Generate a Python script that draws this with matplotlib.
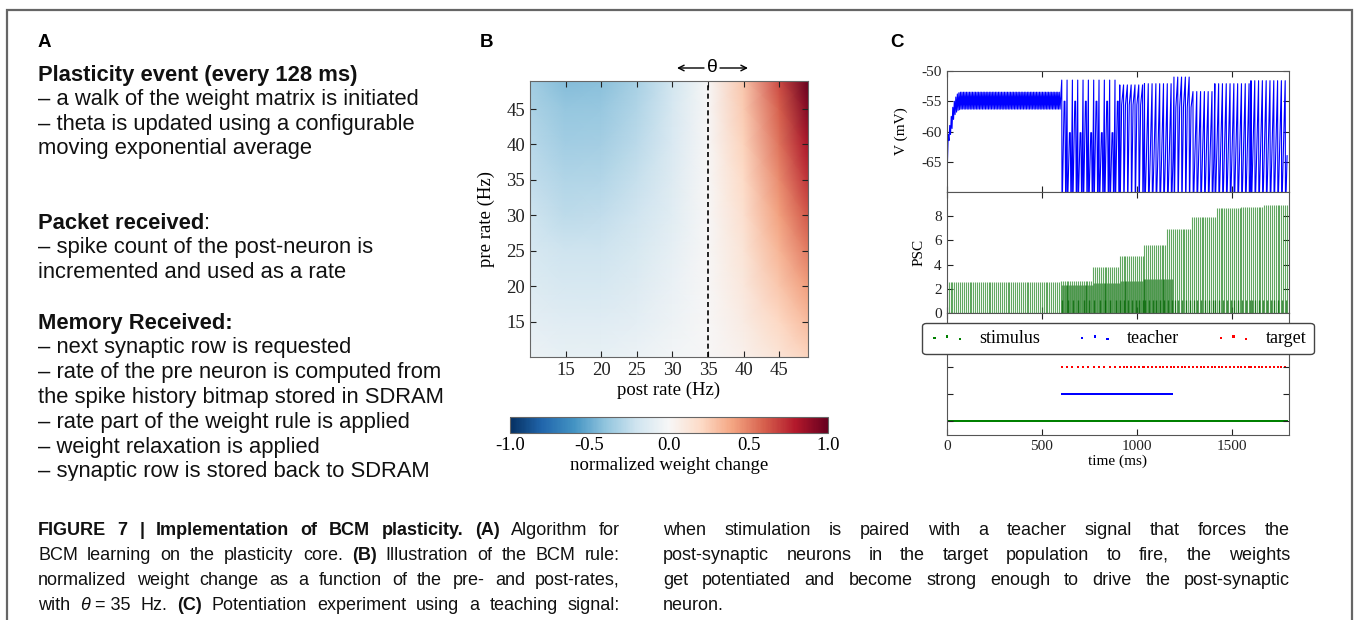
import numpy as np
import matplotlib
matplotlib.use('Agg')
import matplotlib.pyplot as plt
from matplotlib.patches import Rectangle

W, H = 1354, 620
plt.rcParams['font.family'] = ['Liberation Serif', 'DejaVu Serif']
plt.rcParams['axes.unicode_minus'] = False
plt.rcParams['xtick.direction'] = 'in'
plt.rcParams['ytick.direction'] = 'in'
plt.rcParams['xtick.top'] = True
plt.rcParams['ytick.right'] = True
plt.rcParams['xtick.major.size'] = 4
plt.rcParams['ytick.major.size'] = 4

SANS = ['Liberation Sans', 'DejaVu Sans']
NARROW = ['Liberation Sans Narrow', 'Liberation Sans', 'DejaVu Sans']

# ---------------- panel B : BCM rule ----------------
post_rates = [10, 15, 20, 25, 30, 35, 40, 45, 49]
pre_rates = [10, 15, 20, 25, 30, 35, 40, 45, 49]
dw = [
    [-0.06, -0.08, -0.08, -0.06, -0.03, 0.0, 0.05, 0.14, 0.22],
    [-0.10, -0.12, -0.12, -0.10, -0.05, 0.0, 0.08, 0.21, 0.32],
    [-0.14, -0.17, -0.17, -0.13, -0.07, 0.0, 0.11, 0.28, 0.42],
    [-0.17, -0.21, -0.21, -0.16, -0.09, 0.0, 0.14, 0.34, 0.52],
    [-0.21, -0.26, -0.25, -0.20, -0.11, 0.0, 0.17, 0.41, 0.62],
    [-0.25, -0.30, -0.29, -0.23, -0.13, 0.0, 0.20, 0.47, 0.72],
    [-0.28, -0.35, -0.34, -0.27, -0.15, 0.0, 0.23, 0.54, 0.82],
    [-0.32, -0.39, -0.38, -0.30, -0.17, 0.0, 0.26, 0.60, 0.92],
    [-0.35, -0.43, -0.42, -0.33, -0.19, 0.0, 0.28, 0.66, 1.00],
]
theta = 35

# ---------------- panel C : potentiation experiment ----------------
# membrane potential before teacher onset: early cycles, then plateau
osc_period = 8
rise_hi = [-65, -60.5, -59, -57.5, -56, -55, -54.3, -53.8, -53.6, -53.5]
rise_lo = [-65, -61.5, -60.5, -59.5, -58, -57.2, -56.8, -56.5, -56.4, -56.3]
plateau_hi, plateau_lo = -53.5, -56.3
teacher_onset = 600

# spiking segments after teacher onset
seg_start = [605, 910, 1040, 1195, 1295, 1410, 1600]
seg_end = [910, 1040, 1195, 1295, 1410, 1600, 1800]
seg_isi = [28, 20, 20, 20, 20, 20, 20]
seg_peak = [-51.5, -52.3, -52.1, -51.0, -53.4, -52.1, -51.6]
seg_mid = [-55.0, -55.6, -64.4, -56.0, -64.0, -64.0, -64.0]
seg_mid2 = [-60.2, -55.6, -64.4, -56.0, -64.0, -64.0, -64.0]

# PSC amplitudes of the stimulus synapse (steps)
stim_isi = 10
psc_step_start = [0, 600, 770, 910, 1035, 1157, 1288, 1416, 1542, 1665, 1795]
psc_step_level = [2.6, 2.67, 3.8, 4.67, 5.65, 6.95, 7.9, 8.65, 8.8, 8.95, 9.4]
# darker overlapping PSC during teaching
teach_end = 1195
teach_step_start = [600, 770, 910, 1035]
teach_step_level = [2.3, 2.45, 2.65, 2.85]
low_band = 1.05

raster_names = ['stimulus', 'teacher', 'target']
raster_colors = ['green', 'blue', 'red']


def fx(x):
    return x / W


def fy(y):
    return 1 - y / H


fig = plt.figure(figsize=(W / 100, H / 100), dpi=100)
renderer = fig.canvas.get_renderer()

# outer frame
fig.add_artist(Rectangle((fx(7), fy(660)), fx(1352) - fx(7), fy(10) - fy(660),
                         transform=fig.transFigure, fill=False, ec='#666666', lw=1.6))


def make_text(s, sty, size, family):
    return fig.text(0, 0, s, fontsize=size, family=family, va='baseline',
                    weight='bold' if sty == 'b' else 'normal',
                    style='italic' if sty == 'i' else 'normal', color='#111111')


def put_line(x0, x1, y, segs, justify=True, size=13, family=SANS):
    if not justify:
        x = x0
        for s, sty in segs:
            t = make_text(s, sty, size, family)
            t.set_position((fx(x), fy(y)))
            x += t.get_window_extent(renderer).width
        return
    words = [[]]
    for text, sty in segs:
        parts = text.split(' ')
        for i, p in enumerate(parts):
            if i > 0:
                words.append([])
            if p:
                words[-1].append((p, sty))
    words = [w for w in words if w]
    rows, widths = [], []
    for w in words:
        row, tot = [], 0
        for p, sty in w:
            t = make_text(p, sty, size, family)
            wp = t.get_window_extent(renderer).width
            row.append((t, wp))
            tot += wp
        rows.append(row)
        widths.append(tot)
    gap = (x1 - x0 - sum(widths)) / (len(words) - 1)
    x = x0
    for row in rows:
        for t, wp in row:
            t.set_position((fx(x), fy(y)))
            x += wp
        x += gap


# ---------------- panel A : text ----------------
fig.text(fx(38), fy(47), 'A', fontsize=13.5, weight='bold', family=SANS, va='baseline')
text_a = [
    (75, [('Plasticity event (every 128 ms)', 'b')]),
    (99, [('– a walk of the weight matrix is initiated', 'n')]),
    (124, [('– theta is updated using a configurable', 'n')]),
    (148, [('moving exponential average', 'n')]),
    (223, [('Packet received', 'b'), (':', 'n')]),
    (247, [('– spike count of the post-neuron is', 'n')]),
    (272, [('incremented and used as a rate', 'n')]),
    (323, [('Memory Received:', 'b')]),
    (347, [('– next synaptic row is requested', 'n')]),
    (372, [('– rate of the pre neuron is computed from', 'n')]),
    (397, [('the spike history bitmap stored in SDRAM', 'n')]),
    (422, [('– rate part of the weight rule is applied', 'n')]),
    (447, [('– weight relaxation is applied', 'n')]),
    (471, [('– synaptic row is stored back to SDRAM', 'n')]),
]
for yy, segs in text_a:
    put_line(38, 450, yy + 6, segs, justify=False, size=15.8)
fig.add_artist(Rectangle((fx(30), fy(495)), fx(455) - fx(30), fy(481) - fy(495),
                         transform=fig.transFigure, color='white', zorder=10))

# ---------------- panel B : heatmap ----------------
fig.text(fx(480), fy(47), 'B', fontsize=13.5, weight='bold', family=SANS, va='baseline')
ax_b = fig.add_axes([fx(530), fy(357), fx(807.7) - fx(530), fy(80.7) - fy(357)])
mesh = ax_b.pcolormesh(post_rates, pre_rates, np.array(dw), cmap='RdBu_r',
                       vmin=-1, vmax=1, shading='gouraud')
ax_b.axvline(theta, color='k', ls='--', lw=1.2, dashes=(3, 2))
ax_b.set_xlim(10, 49)
ax_b.set_ylim(10, 49)
ax_b.set_xticks([15, 20, 25, 30, 35, 40, 45])
ax_b.set_yticks([15, 20, 25, 30, 35, 40, 45])
ax_b.tick_params(labelsize=13.5, colors='#222222')
ax_b.set_xlabel('post rate (Hz)', fontsize=13.5, labelpad=2)
ax_b.set_ylabel('pre rate (Hz)', fontsize=13.5)
ax_b.yaxis.set_label_coords(-0.125, 0.5)
for s in ax_b.spines.values():
    s.set_color('#666666')

fig.text(fx(712), fy(68), 'θ', fontsize=14, family=SANS, ha='center', va='center')
ax_b.annotate('', xy=(fx(677), fy(68)), xytext=(fx(704), fy(68)), xycoords='figure fraction',
              arrowprops=dict(arrowstyle='->', lw=1, color='k', shrinkA=0, shrinkB=0))
ax_b.annotate('', xy=(fx(748), fy(68)), xytext=(fx(720), fy(68)), xycoords='figure fraction',
              arrowprops=dict(arrowstyle='->', lw=1, color='k', shrinkA=0, shrinkB=0))

cax = fig.add_axes([fx(510), fy(433), fx(828) - fx(510), fy(417) - fy(433)])
cb = fig.colorbar(mesh, cax=cax, orientation='horizontal', ticks=[-1, -0.5, 0, 0.5, 1])
cb.ax.set_xticklabels(['-1.0', '-0.5', '0.0', '0.5', '1.0'])
cb.ax.tick_params(labelsize=13.5, length=0, pad=3)
cb.set_label('normalized weight change', fontsize=13.5, labelpad=2)
cb.outline.set_edgecolor('#666666')

# ---------------- panel C ----------------
fig.text(fx(890), fy(47), 'C', fontsize=13.5, weight='bold', family=SANS, va='baseline')
left, width = fx(946.7), fx(1289) - fx(946.7)
ax_v = fig.add_axes([left, fy(192), width, fy(71) - fy(192)])
ax_p = fig.add_axes([left, fy(313), width, fy(192) - fy(313)], sharex=ax_v)
ax_r = fig.add_axes([left, fy(435), width, fy(313) - fy(435)], sharex=ax_v)

# membrane trace
vt, vv = [], []
for k in range(teacher_onset // osc_period):
    t = k * osc_period
    hi = rise_hi[k] if k < len(rise_hi) else plateau_hi
    lo = rise_lo[k] if k < len(rise_lo) else plateau_lo
    vt += [t, t + osc_period / 2]
    vv += [hi, lo]
target_times = []
for s0, s1, isi, pk, m1, m2 in zip(seg_start, seg_end, seg_isi, seg_peak, seg_mid, seg_mid2):
    for j, t in enumerate(range(s0, s1, isi)):
        mid = m1 if j % 2 == 0 else m2
        if isi > 25:
            # slow firing: short sub-threshold dash between spikes
            vt += [t, t + 1.5, t + 0.45 * isi, t + 0.6 * isi, t + 0.75 * isi]
            vv += [pk, -74, mid, mid, -74]
        else:
            vt += [t, t + 1.5, t + 0.5 * isi]
            vv += [pk, -74, mid]
        target_times.append(t)
ax_v.plot(vt, vv, color='blue', lw=0.8)
ax_v.set_ylim(-70, -50)
ax_v.set_yticks([-65, -60, -55, -50])
ax_v.set_ylabel('V (mV)', fontsize=11)
ax_v.yaxis.set_label_coords(-0.113, 0.5)

# PSC
stim_times = np.arange(0, 1800, stim_isi)
stim_h = np.array(psc_step_level)[np.searchsorted(psc_step_start, stim_times, side='right') - 1]
ax_p.vlines(stim_times, 0, stim_h, color='#2e8b2e', alpha=0.75, lw=0.8)
teacher_times = np.arange(teacher_onset + 5, teach_end, stim_isi)
teach_h = np.array(teach_step_level)[np.searchsorted(teach_step_start, teacher_times, side='right') - 1]
ax_p.vlines(teacher_times, 0, teach_h, color='#006400', alpha=0.6, lw=1.0)
ax_p.vlines(np.array(target_times) + 3, 0, low_band, color='#006400', alpha=0.7, lw=1.0)
ax_p.set_ylim(0, 10)
ax_p.set_yticks([0, 2, 4, 6, 8])
ax_p.set_ylabel('PSC', fontsize=11)
ax_p.yaxis.set_label_coords(-0.063, 0.5)

# raster
raster_times = [stim_times, teacher_times, np.array(target_times)]
handles = []
for i, (name, col, tt) in enumerate(zip(raster_names, raster_colors, raster_times)):
    h = ax_r.scatter(tt, np.full(len(tt), i + 1), s=3, color=col, marker='s', lw=0, label=name)
    handles.append(h)
ax_r.set_ylim(0.5, 5)
ax_r.set_yticks([1, 2, 3, 4])
ax_r.set_yticklabels([])
ax_r.set_xlim(0, 1800)
ax_r.set_xticks([0, 500, 1000, 1500])
ax_r.set_xlabel('time (ms)', fontsize=11, labelpad=1)

for ax in (ax_v, ax_p, ax_r):
    ax.tick_params(labelsize=11, colors='#222222')
    for s in ax.spines.values():
        s.set_color('#555555')
plt.setp(ax_v.get_xticklabels(), visible=False)
plt.setp(ax_p.get_xticklabels(), visible=False)

leg = fig.legend(handles=handles, loc='center', bbox_to_anchor=(fx(1118), fy(338.5)),
                 ncol=3, scatterpoints=3, fontsize=13, markerscale=1.0, fancybox=True,
                 framealpha=1, edgecolor='#444444')
leg.get_frame().set_linewidth(1.0)

# ---------------- caption ----------------
cap_left = [
    [('FIGURE 7 | Implementation of BCM plasticity. ', 'b'), ('(A)', 'b'), (' Algorithm for', 'n')],
    [('BCM learning on the plasticity core. ', 'n'), ('(B)', 'b'), (' Illustration of the BCM rule:', 'n')],
    [('normalized weight change as a function of the pre- and post-rates,', 'n')],
    [('with ', 'n'), ('θ', 'i'), ('\u00a0=\u00a035 Hz. ', 'n'), ('(C)', 'b'),
     (' Potentiation experiment using a teaching signal:', 'n')],
]
cap_right = [
    [('when stimulation is paired with a teacher signal that forces the', 'n')],
    [('post-synaptic neurons in the target population to fire, the weights', 'n')],
    [('get potentiated and become strong enough to drive the post-synaptic', 'n')],
    [('neuron.', 'n')],
]
cap_base = [535, 560, 585, 610]
for yb, segs in zip(cap_base, cap_left):
    put_line(38, 620, yb, segs, justify=True, size=13, family=NARROW)
for k, (yb, segs) in enumerate(zip(cap_base, cap_right)):
    put_line(663, 1290, yb, segs, justify=(k < 3), size=13, family=NARROW)

fig.savefig('out.png', dpi=100)
